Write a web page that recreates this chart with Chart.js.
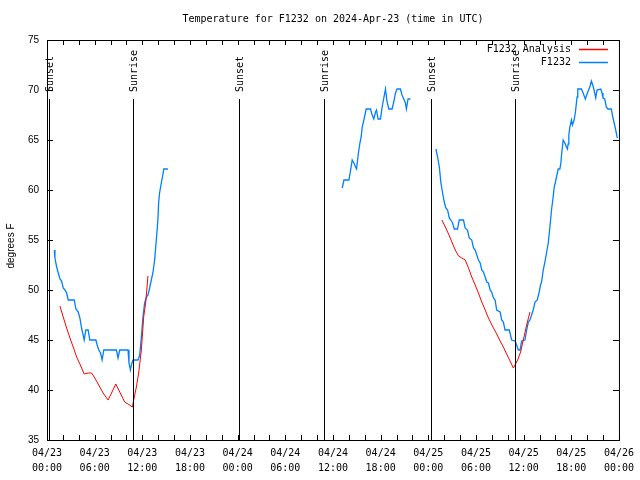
<!DOCTYPE html>
<html>
<head>
<meta charset="utf-8">
<script src="https://cdn.jsdelivr.net/npm/chart.js@4"></script>
<style>
  body { margin: 0; background: #fff; }
  canvas { display: block; }
</style>
</head>
<body>
<canvas id="chart" width="640" height="480"></canvas>
<script>
// hours since 04/23 00:00 UTC, null = gap between segments
const obsHours = [
  0.92, 1.00, 1.22, 1.42, 1.63, 1.84, 2.04, 2.26, 2.47, 2.67, 3.42, 3.64, 3.93, 4.14, 4.35, 4.55, 4.68,
  4.89, 5.18, 5.39, 6.15, 6.31, 6.52, 6.74, 6.94, 7.15, 8.74, 8.94, 9.16, 10.20, 10.32, 10.50, 10.62,
  10.83, 11.45, 11.67, 11.88, 12.08, 12.29, 12.51, 12.71, 12.92, 13.13, 13.33, 13.55, 13.76, 13.96,
  14.05, 14.17, 14.39, 14.51, 14.71, 15.22,
  null,
  37.17, 37.38, 38.01, 38.22, 38.42, 38.63, 38.85, 38.97, 39.17, 39.39, 39.55, 39.68, 39.89, 40.10,
  40.18, 40.73, 40.93, 41.14, 41.36, 41.48, 41.68, 41.98, 42.19, 42.40, 42.61, 42.81, 43.03, 43.44,
  43.65, 43.87, 44.07, 44.49, 44.69, 44.91, 45.12, 45.24, 45.45, 45.75,
  null,
  48.96, 49.17, 49.39, 49.59, 49.80, 50.01, 50.21, 50.43, 50.64, 50.84, 51.05, 51.27, 51.68, 51.89,
  52.43, 52.64, 52.93, 53.15, 53.47, 53.69, 53.90, 54.10, 54.31, 54.53, 54.73, 54.94, 55.16, 55.36,
  55.57, 55.78, 55.98, 56.20, 56.41, 56.61, 57.04, 57.24, 57.45, 57.66, 58.20, 58.49, 58.92, 59.12,
  59.33, 59.55, 59.75, 60.17, 60.38, 60.59, 60.80, 61.21, 61.43, 61.72, 61.93, 62.13, 62.26, 62.47,
  62.68, 62.88, 63.10, 63.31, 63.51, 63.72, 63.85, 64.01, 64.14, 64.35, 64.56, 64.69, 64.77, 64.98,
  65.19, 65.39, 65.52, 65.60, 65.69, 65.82, 66.02, 66.14, 66.36, 66.52, 66.73, 66.82, 67.27, 67.49,
  67.77, 68.03, 68.33, 68.53, 68.74, 68.95, 69.08, 69.24, 69.71, 69.87, 69.99, 70.21, 70.41, 70.62,
  71.03, 71.25, 71.37, 71.54, 71.67, 71.79
];
const obsTemps = [
  54.0, 53.2, 52.3, 51.7, 51.1, 50.9, 50.2, 50.0, 49.7, 49.0, 49.0, 48.1, 47.8, 47.2, 46.2, 45.5, 45.0,
  46.0, 46.0, 45.0, 45.0, 44.5, 44.0, 43.7, 43.0, 44.0, 44.0, 43.2, 44.0, 44.0, 42.7, 42.0, 42.5,
  43.0, 43.0, 43.5, 45.3, 47.3, 48.7, 49.3, 49.5, 50.2, 51.0, 51.7, 53.0, 55.0, 57.0,
  58.7, 59.7, 60.7, 61.2, 62.1, 62.1,
  null,
  60.2, 61.0, 61.0, 62.0, 63.0, 62.7, 62.3, 62.1, 63.5, 64.7, 65.3, 66.3, 67.0, 67.8,
  68.1, 68.1, 67.5, 67.1, 67.8, 68.0, 67.1, 67.1, 68.3, 69.2, 70.1, 68.8, 68.1, 68.1,
  68.8, 69.7, 70.1, 70.1, 69.5, 69.1, 68.7, 68.1, 69.1, 69.1,
  null,
  64.1, 63.3, 62.3, 60.7, 59.7, 58.8, 58.2, 58.0, 57.2, 57.0, 56.7, 56.1, 56.1, 57.0,
  57.0, 56.2, 56.0, 55.2, 55.0, 54.2, 54.0, 53.5, 53.0, 52.7, 52.0, 51.8, 51.3, 50.8,
  50.7, 50.0, 49.8, 49.2, 49.0, 48.0, 47.8, 47.0, 46.8, 46.0, 46.0, 45.0, 44.9, 44.5,
  44.0, 44.0, 44.9, 45.0, 46.0, 46.8, 47.0, 48.0, 48.8, 49.0, 49.7, 50.5, 50.8, 52.0,
  52.8, 53.7, 54.7, 56.3, 58.0, 59.3, 60.3, 60.8, 61.3, 62.1, 62.1, 62.7, 63.5, 65.0,
  64.7, 64.3, 64.1, 64.6, 65.5, 66.3, 67.0, 66.5, 67.0, 67.8, 69.3, 70.1, 70.1, 69.7,
  69.1, 69.7, 70.3, 70.9, 70.4, 69.7, 69.2, 70.0, 70.1, 69.7, 69.2, 69.1, 68.3, 68.1,
  68.1, 67.2, 66.8, 66.2, 65.7, 65.2
];

const anaHours = [
  1.63, 2.04, 2.47, 2.89, 3.30, 3.73, 4.14, 4.68, 5.18, 5.61, 6.02, 6.44, 7.06, 7.69, 8.12, 8.66,
  9.16, 9.78, 10.20, 10.75, 10.91, 11.25, 11.54, 11.88, 12.17, 12.42, 12.71,
  null,
  49.71, 50.14, 50.55, 50.97, 51.39, 51.81, 52.22, 52.65, 53.06, 53.47, 53.90, 54.31, 54.73, 55.16,
  55.57, 56.20, 56.61, 57.04, 57.45, 57.86, 58.29, 58.71, 58.92, 59.25, 59.62, 59.96, 60.38, 60.80
];
const anaTemps = [
  48.4, 47.3, 46.2, 45.2, 44.3, 43.3, 42.6, 41.6, 41.7, 41.7, 41.2, 40.6, 39.7, 39.0, 39.7, 40.6,
  39.8, 38.8, 38.6, 38.3, 39.0, 40.3, 41.7, 44.0, 47.3, 48.7, 51.4,
  null,
  57.0, 56.3, 55.6, 54.8, 54.0, 53.4, 53.2, 53.0, 52.2, 51.3, 50.5, 49.7, 48.8, 48.0,
  47.2, 46.2, 45.6, 44.9, 44.3, 43.6, 42.9, 42.2, 42.5, 43.0, 43.8, 45.0, 46.5, 47.8
];

const eventHours = [0.25, 10.79, 24.21, 34.87, 48.29, 58.96];
const eventLabels = ['Sunset', 'Sunrise', 'Sunset', 'Sunrise', 'Sunset', 'Sunrise'];
const eventTop = 69.1;

const dayLabels = ['04/23', '04/24', '04/25', '04/26'];
const hourLabels = ['00:00', '06:00', '12:00', '18:00'];
const yTicks = [35, 40, 45, 50, 55, 60, 65, 70, 75];

const titleText = 'Temperature for F1232 on 2024-Apr-23 (time in UTC)';
const yTitle = 'degrees F';
const seriesNames = ['F1232 Analysis', 'F1232'];
const seriesColors = ['#ff0000', '#0080ff'];

const MONO = '10px "DejaVu Sans Mono", monospace';
const SANS = '10px "Liberation Sans", Arial, sans-serif';

// null hour -> NaN x so the line breaks there
function toPoints(xs, ys) {
  return xs.map((x, i) => (x === null ? { x: NaN, y: null } : { x: x, y: ys[i] }));
}

// frame, inward ticks, sunrise/sunset markers, legend, titles
const overlay = {
  id: 'overlay',
  afterDraw(chart) {
    const ctx = chart.ctx;
    const a = chart.chartArea;
    const xs = chart.scales.x, ys = chart.scales.y;
    ctx.save();
    ctx.strokeStyle = '#000';
    ctx.lineWidth = 1;
    ctx.strokeRect(a.left + 0.5, a.top + 0.5, a.right - a.left, a.bottom - a.top);

    ctx.beginPath();
    for (let h = 0; h <= 72; h += 2) {
      const px = Math.round(xs.getPixelForValue(h)) + 0.5;
      ctx.moveTo(px, a.bottom); ctx.lineTo(px, a.bottom - 5);
      ctx.moveTo(px, a.top); ctx.lineTo(px, a.top + 5);
    }
    yTicks.forEach(v => {
      const py = Math.round(ys.getPixelForValue(v)) + 0.5;
      ctx.moveTo(a.left, py); ctx.lineTo(a.left + 6, py);
      ctx.moveTo(a.right, py); ctx.lineTo(a.right - 6, py);
    });
    ctx.stroke();

    // sunrise / sunset lines
    ctx.font = MONO;
    ctx.fillStyle = '#000';
    eventHours.forEach((h, i) => {
      const px = Math.round(xs.getPixelForValue(h)) + 0.5;
      const top = Math.round(ys.getPixelForValue(eventTop));
      ctx.beginPath();
      ctx.moveTo(px, top);
      ctx.lineTo(px, a.bottom);
      ctx.stroke();
      ctx.save();
      ctx.translate(px + 0.5, top - 7);
      ctx.rotate(-Math.PI / 2);
      ctx.textAlign = 'left';
      ctx.textBaseline = 'middle';
      ctx.fillText(eventLabels[i], 0, 0);
      ctx.restore();
    });

    // legend
    ctx.textAlign = 'right';
    ctx.textBaseline = 'middle';
    seriesNames.forEach((name, i) => {
      const y = a.top + 9 + i * 13;
      ctx.fillStyle = '#000';
      ctx.fillText(name, a.right - 48, y);
      ctx.strokeStyle = seriesColors[i];
      ctx.lineWidth = 1.5;
      ctx.beginPath();
      ctx.moveTo(a.right - 40, y + 0.5);
      ctx.lineTo(a.right - 11, y + 0.5);
      ctx.stroke();
    });

    // title
    ctx.fillStyle = '#000';
    ctx.textAlign = 'center';
    ctx.fillText(titleText, (a.left + a.right) / 2, 19);

    // y axis title
    ctx.font = SANS;
    ctx.save();
    ctx.translate(11, (a.top + a.bottom) / 2 + 6);
    ctx.rotate(-Math.PI / 2);
    ctx.textAlign = 'center';
    ctx.textBaseline = 'middle';
    ctx.fillText(yTitle, 0, 0);
    ctx.restore();
    ctx.restore();
  }
};

new Chart(document.getElementById('chart'), {
  type: 'line',
  data: {
    datasets: [
      {
        label: seriesNames[0],
        data: toPoints(anaHours, anaTemps),
        borderColor: seriesColors[0],
        borderWidth: 1,
        pointRadius: 0,
        tension: 0,
        spanGaps: false
      },
      {
        label: seriesNames[1],
        data: toPoints(obsHours, obsTemps),
        borderColor: seriesColors[1],
        borderWidth: 1.3,
        pointRadius: 0,
        tension: 0,
        spanGaps: false
      }
    ]
  },
  options: {
    responsive: false,
    animation: false,
    layout: { padding: { top: 40, right: 19, left: 0, bottom: 0 } },
    plugins: {
      legend: { display: false },
      title: { display: false },
      tooltip: { enabled: false }
    },
    scales: {
      x: {
        type: 'linear',
        min: 0,
        max: 72,
        afterFit(scale) { scale.height = 40; },
        afterBuildTicks(scale) {
          const t = [];
          for (let h = 0; h <= 72; h += 6) t.push({ value: h });
          scale.ticks = t;
        },
        grid: { display: false, drawTicks: false },
        border: { display: false },
        ticks: {
          autoSkip: false,
          maxRotation: 0,
          padding: 6,
          color: '#000',
          font: { family: '"DejaVu Sans Mono", monospace', size: 10, lineHeight: 1.5 },
          callback(v) {
            return [dayLabels[Math.floor(v / 24)], hourLabels[(v % 24) / 6]];
          }
        }
      },
      y: {
        min: 35,
        max: 75,
        afterFit(scale) { scale.width = 47; },
        afterBuildTicks(scale) { scale.ticks = yTicks.map(v => ({ value: v })); },
        grid: { display: false, drawTicks: false },
        border: { display: false },
        ticks: {
          padding: 8,
          color: '#000',
          font: { family: '"Liberation Sans", Arial, sans-serif', size: 10 }
        }
      }
    }
  },
  plugins: [overlay]
});
</script>
</body>
</html>
